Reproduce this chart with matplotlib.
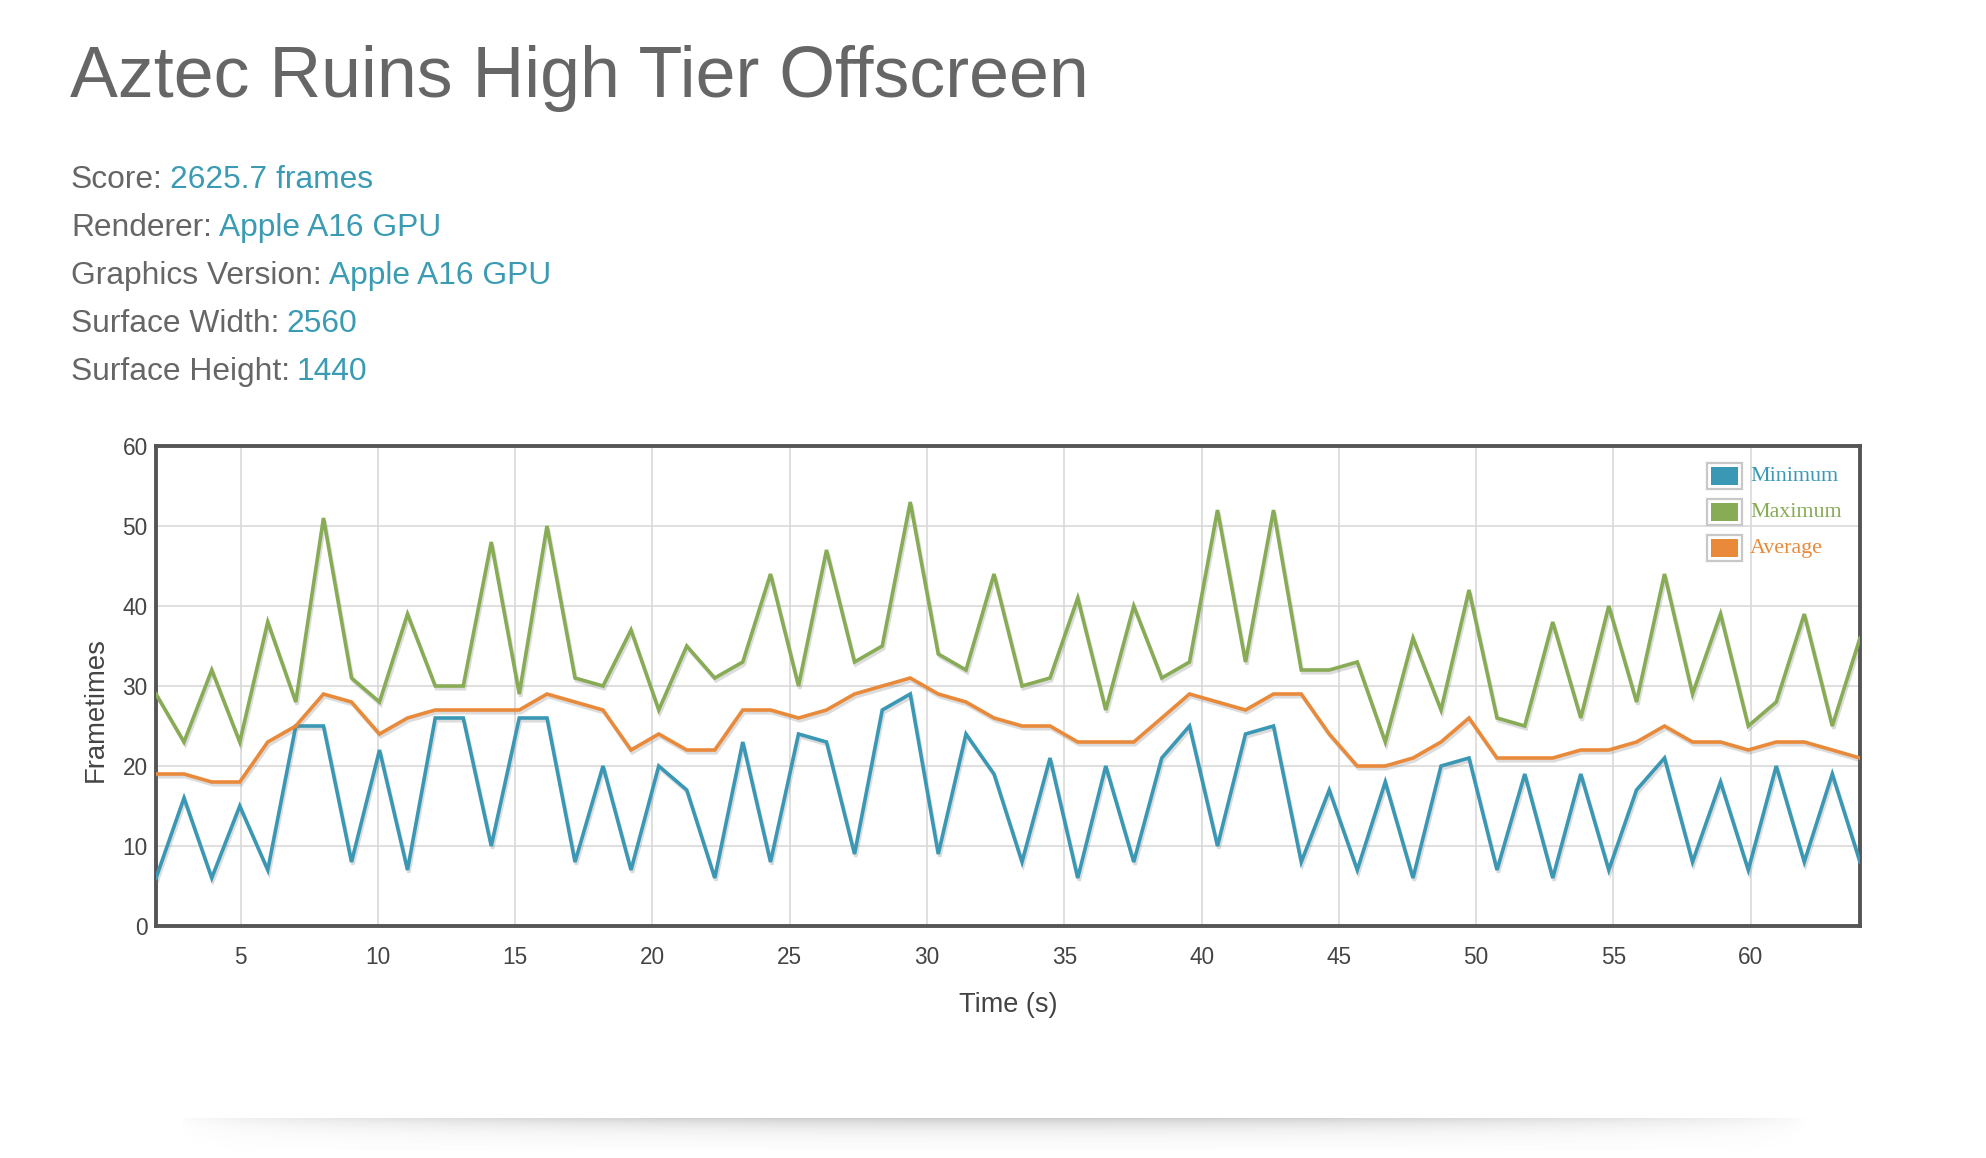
import numpy as np
import matplotlib
matplotlib.use('Agg')
import matplotlib.pyplot as plt
import matplotlib.patheffects as pe
from matplotlib.patches import Rectangle

plt.rcParams['font.family'] = ['Liberation Sans', 'DejaVu Sans']

# data
times = [1.92, 2.94, 3.95, 4.97, 5.99, 7.01, 8.02, 9.04, 10.06, 11.08,
         12.09, 13.11, 14.13, 15.15, 16.16, 17.18, 18.20, 19.22, 20.23, 21.25,
         22.27, 23.29, 24.30, 25.32, 26.34, 27.36, 28.37, 29.39, 30.41, 31.42,
         32.44, 33.46, 34.48, 35.49, 36.51, 37.53, 38.55, 39.56, 40.58, 41.60,
         42.62, 43.63, 44.65, 45.67, 46.69, 47.70, 48.72, 49.74, 50.76, 51.77,
         52.79, 53.81, 54.83, 55.84, 56.86, 57.88, 58.90, 59.91, 60.93, 61.95,
         62.97, 63.98]

minimum = [6, 16, 6, 15, 7, 25, 25, 8, 22, 7,
           26, 26, 10, 26, 26, 8, 20, 7, 20, 17,
           6, 23, 8, 24, 23, 9, 27, 29, 9, 24,
           19, 8, 21, 6, 20, 8, 21, 25, 10, 24,
           25, 8, 17, 7, 18, 6, 20, 21, 7, 19,
           6, 19, 7, 17, 21, 8, 18, 7, 20, 8,
           19, 8]

maximum = [29, 23, 32, 23, 38, 28, 51, 31, 28, 39,
           30, 30, 48, 29, 50, 31, 30, 37, 27, 35,
           31, 33, 44, 30, 47, 33, 35, 53, 34, 32,
           44, 30, 31, 41, 27, 40, 31, 33, 52, 33,
           52, 32, 32, 33, 23, 36, 27, 42, 26, 25,
           38, 26, 40, 28, 44, 29, 39, 25, 28, 39,
           25, 36]

average = [19, 19, 18, 18, 23, 25, 29, 28, 24, 26,
           27, 27, 27, 27, 29, 28, 27, 22, 24, 22,
           22, 27, 27, 26, 27, 29, 30, 31, 29, 28,
           26, 25, 25, 23, 23, 23, 26, 29, 28, 27,
           29, 29, 24, 20, 20, 21, 23, 26, 21, 21,
           21, 22, 22, 23, 25, 23, 23, 22, 23, 23,
           22, 21]

series_names = ['Minimum', 'Maximum', 'Average']
series_colors = ['#3a98b5', '#88ab55', '#e98a3b']

info_labels = ['Score:', 'Renderer:', 'Graphics Version:', 'Surface Width:', 'Surface Height:']
info_values = ['2625.7 frames', 'Apple A16 GPU', 'Apple A16 GPU', '2560', '1440']

W, H = 1986, 1158
fig = plt.figure(figsize=(W / 100, H / 100), dpi=100)

# page overlay for header text and the shadow
page = fig.add_axes([0, 0, 1, 1])
page.set_xlim(0, W)
page.set_ylim(H, 0)
page.axis('off')

page.text(70, 97, 'Aztec Ruins High Tier Offscreen', fontsize=51.7, color='#666666',
          va='baseline', ha='left')

teal = '#3a9bb3'
for i, (lab, val) in enumerate(zip(info_labels, info_values)):
    y = 188 + i * 48
    t = page.text(71, y, lab, fontsize=22.9, color='#666666', va='baseline', ha='left')
    page.annotate(val, xy=(1, 0), xycoords=t, xytext=(5, 0), textcoords='offset points',
                  fontsize=22.9, color=teal, va='bottom', ha='left')

# soft shadow under the card
sx = np.linspace(0, 1, 400)
sy = np.linspace(0, 1, 40)
hx = np.clip(np.sin(np.pi * sx) ** 0.6, 0, 1)
vy = np.exp(-3 * sy)
alpha = np.outer(vy, hx) * 0.3
img = np.zeros((40, 400, 4))
img[..., :3] = 0.35
img[..., 3] = alpha
page.imshow(img, extent=(178, 1808, 1150, 1118), aspect='auto', zorder=0)

ax = fig.add_axes([156 / W, 1 - 926 / H, 1704 / W, 480 / H])

for vals, name, col in zip([minimum, maximum, average], series_names, series_colors):
    ax.plot(times, vals, color=col, lw=2.6, label=name, zorder=3,
            solid_joinstyle='miter',
            path_effects=[pe.SimpleLineShadow(offset=(1, -2), shadow_color='#777777', alpha=0.25),
                          pe.Normal()])

ax.set_xlim(times[0], times[-1])
ax.set_ylim(0, 60)
ax.set_xticks(range(5, 61, 5))
ax.set_yticks(range(0, 61, 10))
ax.grid(True, color='#d6d6d6', lw=1.1, zorder=0)
ax.tick_params(length=0, labelsize=16.3, labelcolor='#444444')
ax.tick_params(axis='x', pad=14.5)
ax.tick_params(axis='y', pad=6)
for s in ax.spines.values():
    s.set_color('#555555')
    s.set_linewidth(2.8)

ax.set_xlabel('Time (s)', fontsize=19.5, color='#444444')
ax.xaxis.set_label_coords(0.5, -0.138)
ax.set_ylabel('Frametimes', fontsize=19.8, color='#444444')
ax.yaxis.set_label_coords(-0.028, 0.45)

# legend drawn as swatches + serif labels
for i, (name, col) in enumerate(zip(series_names, series_colors)):
    top = 463 + i * 36
    y0 = (926 - top - 26) / 480
    x0 = (1707 - 156) / 1704
    ax.add_patch(Rectangle((x0, y0), 35 / 1704, 26 / 480, transform=ax.transAxes,
                           facecolor='white', edgecolor='#c8c8c8', lw=1.6, zorder=5))
    ax.add_patch(Rectangle((x0 + 4 / 1704, y0 + 4 / 480), 27 / 1704, 18 / 480,
                           transform=ax.transAxes, facecolor=col, edgecolor='none', zorder=6))
    ax.text((1750 - 156) / 1704, y0 + 13 / 480, name, transform=ax.transAxes,
            fontsize=15.8, color=col, va='center', ha='left', zorder=6,
            family=['Liberation Serif', 'DejaVu Serif'])

fig.savefig('out.png', dpi=100)
